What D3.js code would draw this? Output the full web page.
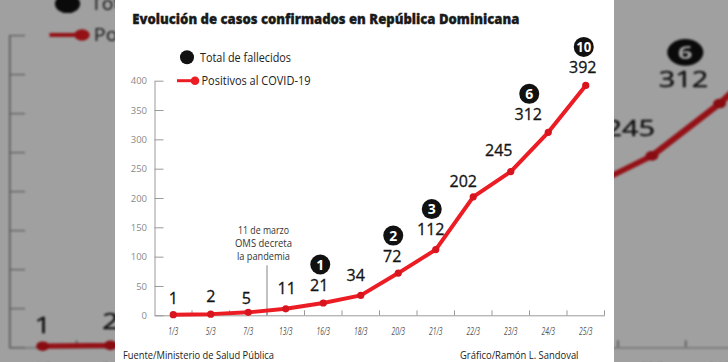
<!DOCTYPE html>
<html>
<head>
<meta charset="utf-8">
<script src="https://cdn.jsdelivr.net/npm/d3@7"></script>
<style>
html, body { margin: 0; padding: 0; background: #a1a1a1; }
svg { display: block; }
</style>
</head>
<body>
<svg id="chart" width="728" height="362"></svg>
<script>
// datos
const fechas = ["1/3","5/3","7/3","13/3","16/3","18/3","20/3","21/3","22/3","23/3","24/3","25/3"];
const positivos = [1, 2, 5, 11, 21, 34, 72, 112, 202, 245, 312, 392];
const fallecidos = [null, null, null, null, 1, null, 2, 3, null, null, 6, 10];
const yTicks = [0, 50, 100, 150, 200, 250, 300, 350, 400];
const titulo = "Evolución de casos confirmados en República Dominicana";
const leyenda = ["Total de fallecidos", "Positivos al COVID-19"];
const nota = ["11 de marzo", "OMS decreta", "la pandemia"];
const notaDespuesDe = "7/3";
const fuente = "Fuente/Ministerio de Salud Pública";
const credito = "Gráfico/Ramón L. Sandoval";

// layout only: nudges for the value labels (dx, dy from the point)
const labelNudge = [[0,-16],[0,-18],[-2,-14],[1,-21],[-4,-18],[-5,-20],[-6,-17],[-5,-20],[-10,-16],[-12,-21],[-20,-18],[-3,-18]];

const ROJO = "#ec1c24";
const FONT = "'Open Sans', 'DejaVu Sans', sans-serif";

// squeeze a text to a width (the original uses a condensed face)
function fit(sel, w) {
  sel.attr("textLength", w).attr("lengthAdjust", "spacingAndGlyphs");
}
function squeeze(sel, k) {
  sel.each(function() {
    const len = this.getComputedTextLength();
    d3.select(this).attr("textLength", len * k).attr("lengthAdjust", "spacingAndGlyphs");
  });
}

const svg = d3.select("#chart");
const defs = svg.append("defs");
const filt = defs.append("filter").attr("id", "fondo")
  .attr("color-interpolation-filters", "sRGB");
filt.append("feGaussianBlur").attr("stdDeviation", 1.1);
const ct = filt.append("feComponentTransfer");
["R","G","B"].forEach(c => ct.append("feFunc" + c).attr("type", "linear").attr("slope", 0.63));

function drawChart(g) {
  g.append("rect")
    .attr("x", 115).attr("y", 0)
    .attr("width", 499).attr("height", 362)
    .attr("fill", "#fff");

  const x = d3.scaleBand().domain(fechas).range([154.5, 604.5]);
  const y = d3.scaleLinear().domain([0, 400]).range([315.3, 80.7]);
  const cx = i => x(fechas[i]) + x.bandwidth() / 2;

  // title
  g.append("text")
    .attr("x", 132.3).attr("y", 24)
    .attr("font-family", FONT).attr("font-weight", 800).attr("font-size", 14)
    .attr("fill", "#1a1a1a").attr("stroke", "#1a1a1a").attr("stroke-width", 0.35)
    .text(titulo)
    .call(fit, 387);

  // y axis
  const yAxis = g.append("g")
    .attr("transform", `translate(${x.range()[0]},0)`)
    .call(d3.axisLeft(y).tickValues(yTicks).tickSize(-9).tickSizeOuter(0).tickPadding(7.5));
  yAxis.select(".domain").attr("stroke", "#9a9a9a");
  yAxis.selectAll(".tick line").attr("stroke", "#9a9a9a");
  yAxis.selectAll(".tick text")
    .attr("fill", "#8a8a8a").attr("font-size", 9.5).attr("font-family", FONT);

  // x axis
  const xAxis = g.append("g")
    .attr("transform", `translate(0,${y(0)})`)
    .call(d3.axisBottom(x).tickSize(0).tickSizeOuter(0).tickPadding(12.5));
  xAxis.select(".domain").attr("stroke", "#9a9a9a");
  xAxis.selectAll(".tick text")
    .attr("fill", "#555").attr("font-size", 10.5).attr("font-style", "italic")
    .attr("font-family", FONT)
    .call(squeeze, 0.64);

  g.append("g").selectAll("line")
    .data(fechas)
    .join("line")
    .attr("x1", d => x(d) + x.bandwidth()).attr("x2", d => x(d) + x.bandwidth())
    .attr("y1", y(0)).attr("y2", y(0) - 5)
    .attr("stroke", "#9a9a9a");

  // OMS note
  const xn = x(notaDespuesDe) + x.bandwidth();
  g.append("line")
    .attr("x1", xn).attr("x2", xn)
    .attr("y1", y(0)).attr("y2", y(0) - 50)
    .attr("stroke", "#666").attr("stroke-width", 0.8);
  const notaW = [51, 57, 53];
  g.append("g").selectAll("text")
    .data(nota)
    .join("text")
    .attr("x", xn - 3.5).attr("y", (d, i) => 234 + i * 13)
    .attr("text-anchor", "middle")
    .attr("font-family", FONT).attr("font-size", 11).attr("fill", "#333")
    .text(d => d)
    .each(function(d, i) { d3.select(this).call(fit, notaW[i]); });

  // line
  const line = d3.line()
    .x((d, i) => cx(i))
    .y(d => y(d));
  g.append("path")
    .datum(positivos)
    .attr("d", line)
    .attr("fill", "none")
    .attr("stroke", ROJO).attr("stroke-width", 4)
    .attr("stroke-linejoin", "round").attr("stroke-linecap", "round");
  g.append("g").selectAll("circle")
    .data(positivos)
    .join("circle")
    .attr("cx", (d, i) => cx(i)).attr("cy", d => y(d))
    .attr("r", 3.6)
    .attr("fill", "#d8141e");

  // value labels
  g.append("g").selectAll("text")
    .data(positivos)
    .join("text")
    .attr("x", (d, i) => cx(i) + labelNudge[i][0])
    .attr("y", (d, i) => y(d) + labelNudge[i][1])
    .attr("dy", "0.36em")
    .attr("text-anchor", "middle")
    .attr("font-family", FONT).attr("font-size", 16)
    .attr("fill", "#141414").attr("stroke", "#141414").attr("stroke-width", 0.3)
    .text(d => d);

  // deaths markers
  const muertes = fallecidos.map((d, i) => ({ d, i })).filter(o => o.d != null);
  const mk = g.append("g").selectAll("g")
    .data(muertes)
    .join("g")
    .attr("transform", o => `translate(${cx(o.i) + labelNudge[o.i][0] + 1},${y(positivos[o.i]) + labelNudge[o.i][1] - 20.5})`);
  mk.append("circle").attr("r", 10).attr("fill", "#111");
  mk.append("text")
    .attr("dy", "0.36em")
    .attr("text-anchor", "middle")
    .attr("font-family", FONT).attr("font-weight", 700).attr("font-size", 14)
    .attr("fill", "#fff")
    .text(o => o.d)
    .each(function(o) { if (o.d >= 10) d3.select(this).call(fit, 15); });

  // legend
  g.append("circle").attr("cx", 187).attr("cy", 57.3).attr("r", 7).attr("fill", "#111");
  g.append("text")
    .attr("x", 200).attr("y", 57.3).attr("dy", "0.35em")
    .attr("font-family", FONT).attr("font-size", 13).attr("fill", "#222")
    .text(leyenda[0])
    .call(fit, 91);
  g.append("line")
    .attr("x1", 177).attr("x2", 193).attr("y1", 80.7).attr("y2", 80.7)
    .attr("stroke", ROJO).attr("stroke-width", 3);
  g.append("circle").attr("cx", 195).attr("cy", 80.7).attr("r", 4.3).attr("fill", ROJO);
  g.append("text")
    .attr("x", 201.5).attr("y", 80.7).attr("dy", "0.35em")
    .attr("font-family", FONT).attr("font-size", 13).attr("fill", "#222")
    .text(leyenda[1])
    .call(fit, 109);

  // footer
  g.append("text")
    .attr("x", 123).attr("y", 358.5)
    .attr("font-family", FONT).attr("font-size", 10.5).attr("fill", "#222")
    .text(fuente)
    .call(fit, 151);
  g.append("text")
    .attr("x", 460).attr("y", 358.5)
    .attr("font-family", FONT).attr("font-size", 10.5).attr("fill", "#222")
    .text(credito)
    .call(fit, 118.5);
}

// blurred, enlarged copy behind the panel
const fondo = svg.append("g").attr("filter", "url(#fondo)")
  .append("g").attr("transform", "translate(-270,-72.4) scale(1.805,1.33)");
drawChart(fondo);

const frente = svg.append("g");
drawChart(frente);
</script>
</body>
</html>
